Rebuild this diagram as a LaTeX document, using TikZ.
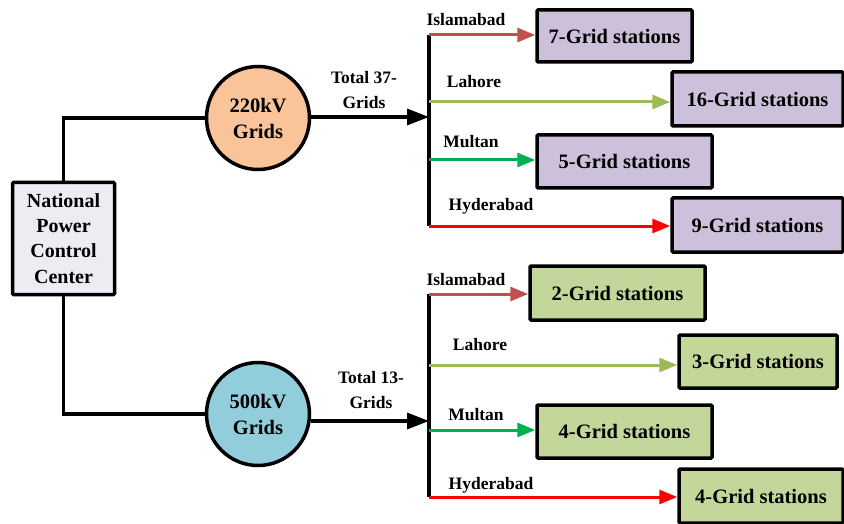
\documentclass[tikz,border=0pt]{standalone}
\usepackage{fontspec}
\setmainfont{Liberation Serif}
\usetikzlibrary{arrows.meta}
\definecolor{cIsl}{HTML}{C0504D}
\definecolor{cLah}{HTML}{9BBB59}
\definecolor{cMul}{HTML}{00B050}
\definecolor{cHyd}{HTML}{FF0000}
\definecolor{fPur}{HTML}{CCC0DA}
\definecolor{fGrn}{HTML}{C4D79B}
\definecolor{fNat}{HTML}{EEECF3}
\definecolor{fOra}{HTML}{F9C499}
\definecolor{fBlu}{HTML}{92CDDC}
\tikzset{
  stbox/.style={draw=black,line width=3.5pt,rounded corners=1pt,font=\bfseries\fontsize{20.5}{22}\selectfont,inner sep=0pt},
  grid/.style={circle,draw=black,line width=3.5pt,font=\bfseries\fontsize{20.5}{26}\selectfont,align=center,inner sep=0pt,minimum size=103pt},
  lbl/.style={font=\bfseries\fontsize{17.5}{25}\selectfont,inner sep=0pt,align=center},
  br/.style={line width=3pt,-{Triangle[length=18pt,width=14pt]}},
  bk/.style={line width=3.5pt,black},
}
\begin{document}
\begin{tikzpicture}[x=1pt,y=-1pt]
\useasboundingbox (0,0) rectangle (844,524);
% central node
\node[draw,line width=3.5pt,fill=fNat,minimum width=102pt,minimum height=112pt,align=center,
  font=\bfseries\fontsize{20}{25.3}\selectfont,inner sep=0pt,rounded corners=1pt] (npcc) at (63.5,238.5) {National\\Power\\Control\\Center};
\node[grid,fill=fOra] (g220) at (258,118) {220kV\\Grids};
\node[grid,fill=fBlu] (g500) at (258,414) {500kV\\Grids};
\draw[bk] (npcc.north) |- (g220.west);
\draw[bk] (npcc.south) |- (g500.west);
% buses
\coordinate (ut) at (429,35);
\coordinate (ub) at (429,226);
\coordinate (lt) at (429,294);
\coordinate (lb) at (429,497);
\draw[bk] (ut) -- (ub);
\draw[bk] (lt) -- (lb);
\coordinate (ua) at (429,117);
\coordinate (la) at (429,421);
\draw[bk,-{Triangle[length=22pt,width=16pt]}] (g220.east |- ua) -- (ua);
\draw[bk,-{Triangle[length=22pt,width=16pt]}] (g500.east |- la) -- (la);
\node[lbl] (t37) at (364,90) {Total 37-\\Grids};
\node[lbl] (t13) at (371,390) {Total 13-\\Grids};
% upper boxes
\node[stbox,fill=fPur,minimum width=155pt,minimum height=52pt] (b7) at (614.5,36) {7-Grid stations};
\node[stbox,fill=fPur,minimum width=171pt,minimum height=54pt] (b16) at (757.5,99) {16-Grid stations};
\node[stbox,fill=fPur,minimum width=175pt,minimum height=53pt] (b5) at (624.5,161.5) {5-Grid stations};
\node[stbox,fill=fPur,minimum width=171pt,minimum height=54pt] (b9) at (757.5,225) {9-Grid stations};
% lower boxes
\node[stbox,fill=fGrn,minimum width=175pt,minimum height=54pt] (b2) at (617.5,293) {2-Grid stations};
\node[stbox,fill=fGrn,minimum width=158pt,minimum height=53pt] (b3) at (758,361.5) {3-Grid stations};
\node[stbox,fill=fGrn,minimum width=175pt,minimum height=53pt] (b4) at (624.5,431.5) {4-Grid stations};
\node[stbox,fill=fGrn,minimum width=164pt,minimum height=54pt] (b4b) at (761,496) {4-Grid stations};
% upper branches
\draw[br,cIsl] (ut) -- (b7.west |- ut);
\draw[br,cLah] (429,102) -- (b16.west |- 0,102);
\draw[br,cMul] (429,160) -- (b5.west |- 0,160);
\draw[br,cHyd] (ub) -- (b9.west |- ub);
% lower branches
\draw[br,cIsl] (lt) -- (b2.west |- lt);
\draw[br,cLah] (429,365) -- (b3.west |- 0,365);
\draw[br,cMul] (429,430) -- (b4.west |- 0,430);
\draw[br,cHyd] (lb) -- (b4b.west |- lb);
% labels
\node[lbl] (li1) at (466,20) {Islamabad};
\node[lbl] (ll1) at (474,82) {Lahore};
\node[lbl] (lm1) at (471,142) {Multan};
\node[lbl] (lh1) at (491,206) {Hyderabad};
\node[lbl] (li2) at (466,280) {Islamabad};
\node[lbl] (ll2) at (480,345) {Lahore};
\node[lbl] (lm2) at (476,415) {Multan};
\node[lbl] (lh2) at (491,485) {Hyderabad};
\end{tikzpicture}
\end{document}
